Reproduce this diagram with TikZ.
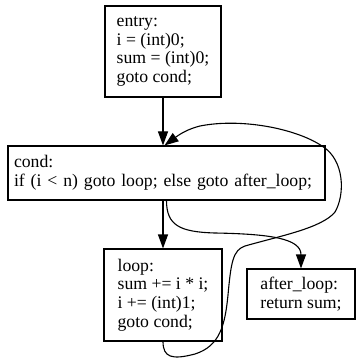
\documentclass[tikz,border=0pt]{standalone}
\usepackage{fontspec}
\setmainfont{Liberation Serif}
\usetikzlibrary{arrows.meta}
\tikzset{
  block/.style={draw, line width=1.1pt, align=left, inner sep=0pt,
    font=\fontsize{17.7}{18.7}\selectfont},
  arr/.style={line width=1.1pt, -{Triangle[length=14pt,width=10pt]}}
}
\begin{document}
\begin{tikzpicture}[x=1pt, y=-1pt]
    \useasboundingbox (0,0) rectangle (360,363);
    % Blocks
    \node[block, minimum width=116pt, minimum height=91pt] (entry) at (163,51.5)
        {entry:\\i = (int)0;\\sum = (int)0;\\goto cond;};
    \node[block, text width=305pt, inner xsep=6pt, minimum height=54pt] (cond) at (166.5,173)
        {cond:\\\mbox{if (i < n) goto loop; else goto after\_loop;}};
    \node[block, minimum width=118pt, minimum height=92pt] (loop) at (163,295)
        {loop:\\sum += i * i;\\i += (int)1;\\goto cond;};
    \node[block, minimum width=108pt, minimum height=50pt] (afterloop) at (301,294)
        {after\_loop:\\return sum;};
    % Straight edges
    \draw[arr] (entry.south) -- (entry.south |- cond.north);
    \draw[arr] (loop.north |- cond.south) -- (loop.north);
    % Exit edge
    \draw[arr] (cond.south) .. controls +(0,25) and (180,232) .. (215,233)
        .. controls (270,234) and +(0,-30) .. (afterloop.north);
    % Back edge
    \draw[arr] (loop.south) .. controls +(0,16) and (172,360) .. (195,354)
        .. controls (220,346) and (225,325) .. (228,295)
        .. controls (231,262) and (233,250) .. (245,246)
        .. controls (280,236) and (322,228) .. (335,212)
        .. controls (345,195) and (345,160) .. (322,146)
        .. controls (295,128) and (240,118) .. (200,126)
        .. controls (188,129) and (180,134) .. ([xshift=-2pt]cond.north);
\end{tikzpicture}
\end{document}
